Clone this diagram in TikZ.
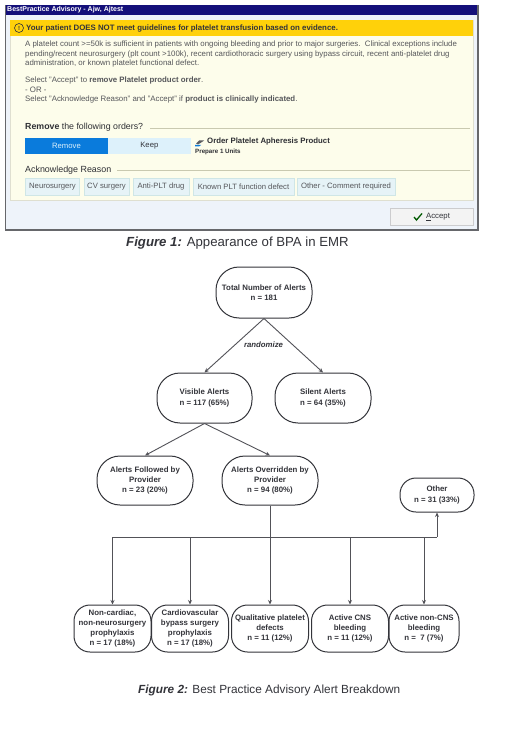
\documentclass[tikz,border=0pt]{standalone}
\usepackage{fontspec}
\setmainfont{Liberation Sans}
\usetikzlibrary{arrows.meta}
\definecolor{ink}{HTML}{33343A}
\definecolor{uitext}{HTML}{55565A}
\definecolor{cream}{HTML}{FDFDEB}
\definecolor{barblue}{HTML}{14107A}
\definecolor{gold}{HTML}{FFD10A}
\definecolor{foot}{HTML}{EEF3FA}
\definecolor{selblue}{HTML}{0A7BDC}
\definecolor{keepblue}{HTML}{DDF1FB}
\definecolor{chipfill}{HTML}{E6F3F7}
\definecolor{chipline}{HTML}{CFE6E6}
\definecolor{rule}{HTML}{C9C9B0}
\tikzset{
  x=1pt,y=-1pt,
  flow/.style={draw=ink,line width=1pt,rounded corners=23pt,fill=white,align=center,inner sep=0pt,
    text=ink,font=\fontsize{7.85}{10.3}\selectfont\bfseries},
  flowsmall/.style={flow,rounded corners=16pt},
  link/.style={draw=ink!85,line width=0.9pt,-{Stealth[length=4.5pt,width=4pt]}},
  busline/.style={draw=ink!85,line width=0.9pt},
  ui/.style={anchor=west,inner sep=0pt,text=uitext,font=\fontsize{7.85}{9}\selectfont},
  uidark/.style={ui,text=ink!90!black},
  chip/.style={draw=chipline,fill=chipfill,line width=0.6pt,inner sep=0pt,text=uitext,
    minimum height=17pt,font=\fontsize{7.7}{8}\selectfont},
  btn/.style={inner sep=0pt,minimum height=16pt,minimum width=82.5pt,font=\fontsize{7.7}{9}\selectfont},
  figcap/.style={anchor=west,inner sep=0pt,text=ink},
}
\begin{document}
\begin{tikzpicture}
\useasboundingbox (0,0) rectangle (520,738);
\fill[white] (0,0) rectangle (520,738);
% window
\fill[foot] (5,5) rectangle (478,230);
\fill[cream] (10,20) rectangle (473,200);
\draw[rule!60,line width=0.6pt] (10,20) rectangle (473,200);
\fill[barblue] (6,5) rectangle (477,15);
\fill[gold] (10,20) rectangle (473,36);
\draw[ink!75,line width=0.8pt] (5.5,5) -- (5.5,230);
\draw[ink!75,line width=1.2pt] (478,5) -- (478,230);
\draw[ink!75,line width=1.4pt] (5,230) -- (478.5,230);
\node[ui,text=white,font=\fontsize{7}{8}\selectfont\bfseries] (title) at (7,10) {BestPractice Advisory - Ajw, Ajtest};
\node[draw=ink,line width=0.6pt,circle,minimum size=9pt,inner sep=0pt,text=ink,font=\fontsize{6}{6}\selectfont\bfseries] (warn) at (19,28) {!};
\node[ui,text=ink,font=\fontsize{7.85}{9}\selectfont\bfseries] (head) at (26,28) {Your patient DOES NOT meet guidelines for platelet transfusion based on evidence.};
\node[ui] (l1) at (25,44.5) {A platelet count >=50k is sufficient in patients with ongoing bleeding and prior to major surgeries.\ \ Clinical exceptions include};
\node[ui] (l2) at (25,54) {pending/recent neurosurgery (plt count >100k), recent cardiothoracic surgery using bypass circuit, recent anti-platelet drug};
\node[ui] (l3) at (25,63) {administration, or known platelet functional defect.};
\node[ui] (l4) at (25,80) {Select "Accept" to \textbf{remove Platelet product order}.};
\node[ui] (l5) at (25,89.5) {- OR -};
\node[ui] (l6) at (25,99) {Select "Acknowledge Reason" and "Accept" if \textbf{product is clinically indicated}.};
\node[uidark,font=\fontsize{8.8}{9}\selectfont] (rem) at (25,127.5) {\textbf{Remove} the following orders?};
\draw[rule,line width=0.7pt] (150,128) -- (470,128);
\node[btn,fill=selblue,text=keepblue,anchor=west] (bremove) at (25,146) {Remove};
\node[btn,fill=keepblue,text=ink,anchor=west] (bkeep) at (bremove.east) {Keep};
\fill[ink!80] (196,143.5) -- (199,140.5) -- (204,140.5) -- (202,142) -- (198,144.5) -- cycle;
\fill[selblue] (195,145) -- (201,145) -- (199,146.5) -- (195,146.5) -- cycle;
\node[uidark,font=\fontsize{7.8}{9}\selectfont\bfseries] (order) at (207,141.5) {Order Platelet Apheresis Product};
\node[uidark,font=\fontsize{6.2}{7}\selectfont\bfseries] (prep) at (195,151.5) {Prepare 1 Units};
\node[uidark,font=\fontsize{8.9}{9}\selectfont] (ack) at (25,170) {Acknowledge Reason};
\draw[rule,line width=0.7pt] (117,170) -- (470,170);
\node[chip,minimum width=54pt] (c1) at (52.5,186.5) {Neurosurgery};
\node[chip,minimum width=45pt] (c2) at (106.5,186.5) {CV surgery};
\node[chip,minimum width=56pt] (c3) at (161,186.5) {Anti-PLT drug};
\node[chip,minimum width=101pt] (c4) at (243.5,186.5) {Known PLT function defect};
\node[chip,minimum width=98pt] (c5) at (346,186.5) {Other - Comment required};
\node[draw=ink!25,fill=ink!6,line width=0.6pt,minimum width=83pt,minimum height=16.5pt,inner sep=0pt,text=ink,
  font=\fontsize{7.8}{9}\selectfont] (accept) at (431.5,217) {\hspace{13pt}\underline{A}ccept};
\draw[green!35!black,line width=1.3pt] (414,217) -- (416.5,220) -- (422,213.5);
% captions
\node[figcap,font=\fontsize{13.2}{15}\selectfont] (fig1) at (126,243) {\textbf{\textit{Figure 1:}} Appearance of BPA in EMR};
\node[figcap,font=\fontsize{11.8}{14}\selectfont] (fig2) at (138,690) {\textbf{\textit{Figure 2:}} Best Practice Advisory Alert Breakdown};
% flow chart
\node[flow,minimum width=96pt,minimum height=51pt] (total) at (264,292.5) {Total Number of Alerts\\n = 181};
\node[flow,minimum width=95pt,minimum height=50pt] (visible) at (204.5,398) {Visible Alerts\\n = 117 (65\%)};
\node[flow,minimum width=96pt,minimum height=50pt] (silent) at (323,398) {Silent Alerts\\n = 64 (35\%)};
\node[flow,minimum width=96pt,minimum height=49pt] (followed) at (145,480.5) {Alerts Followed by\\Provider\\n = 23 (20\%)};
\node[flow,minimum width=96pt,minimum height=49pt] (overridden) at (270,480.5) {Alerts Overridden by\\Provider\\n = 94 (80\%)};
\node[flowsmall,minimum width=74pt,minimum height=34pt] (other) at (437,495) {Other\\n = 31 (33\%)};
\node[flowsmall,minimum width=77pt,minimum height=47pt] (n1) at (112.5,628.5) {Non-cardiac,\\non-neurosurgery\\prophylaxis\\n = 17 (18\%)};
\node[flowsmall,minimum width=77pt,minimum height=47pt] (n2) at (190,628.5) {Cardiovascular\\bypass surgery\\prophylaxis\\n = 17 (18\%)};
\node[flowsmall,minimum width=77pt,minimum height=47pt] (n3) at (270,628.5) {Qualitative platelet\\defects\\n = 11 (12\%)};
\node[flowsmall,minimum width=77pt,minimum height=47pt] (n4) at (350,628.5) {Active CNS\\bleeding\\n = 11 (12\%)};
\node[flowsmall,minimum width=70pt,minimum height=47pt] (n5) at (424,628.5) {Active non-CNS\\bleeding\\n =\ \ 7 (7\%)};
\node[inner sep=0pt,text=ink,font=\fontsize{7.8}{8}\selectfont\bfseries\itshape] (rand) at (263.5,345) {randomize};
\draw[link] (total.south) -- (visible.north);
\draw[link] (total.south) -- (silent.north);
\draw[link] (visible.south) -- (followed.north);
\draw[link] (visible.south) -- (overridden.north);
\draw[link] (overridden.south) -- (n3.north);
\coordinate (busy) at (270,537);
\draw[busline] (n1.north |- busy) -- (other.south |- busy);
\draw[link] (other.south |- busy) -- (other.south);
\draw[link] (n1.north |- busy) -- (n1.north);
\draw[link] (n2.north |- busy) -- (n2.north);
\draw[link] (n4.north |- busy) -- (n4.north);
\draw[link] (n5.north |- busy) -- (n5.north);
\end{tikzpicture}
\end{document}
